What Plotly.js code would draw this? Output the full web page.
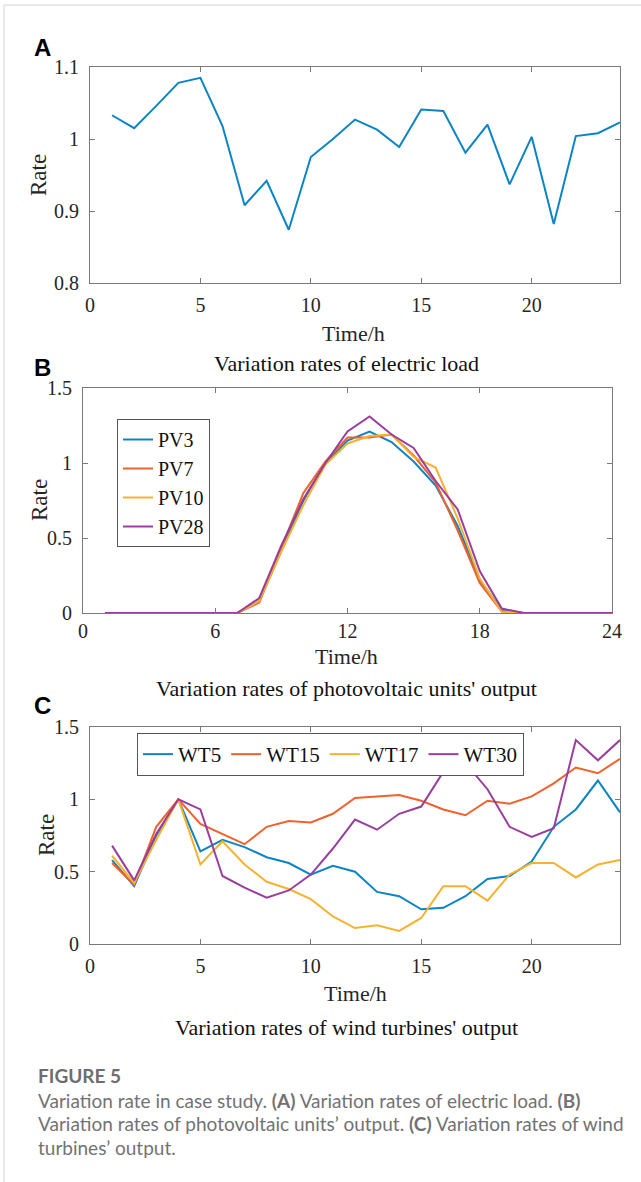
<!DOCTYPE html>
<html>
<head>
<meta charset="utf-8">
<script src="https://cdn.plot.ly/plotly-3.0.1.min.js"></script>
<style>
  html, body { margin: 0; padding: 0; background: #fff; }
  #chart { width: 641px; height: 1182px; }
</style>
</head>
<body>
<div id="chart"></div>
<script>
// ---------- data ----------
const hours = [1,2,3,4,5,6,7,8,9,10,11,12,13,14,15,16,17,18,19,20,21,22,23,24];

const loadRate = [1.033,1.015,1.046,1.078,1.085,1.018,0.908,0.942,0.874,0.975,1.000,1.027,
                  1.013,0.989,1.041,1.039,0.981,1.020,0.937,1.003,0.882,1.004,1.008,1.023];

const pvNames = ["PV3","PV7","PV10","PV28"];
const pv3  = [0,0,0,0,0,0,0,0.08,0.42,0.75,1.00,1.15,1.21,1.14,1.01,0.85,0.58,0.22,0.02,0,0,0,0,0];
const pv7  = [0,0,0,0,0,0,0,0.07,0.43,0.80,1.01,1.17,1.17,1.19,1.05,0.87,0.55,0.20,0.01,0,0,0,0,0];
const pv10 = [0,0,0,0,0,0,0,0.08,0.41,0.72,0.99,1.13,1.18,1.19,1.04,0.97,0.63,0.23,0.01,0,0,0,0,0];
const pv28 = [0,0,0,0,0,0,0,0.10,0.45,0.76,1.00,1.21,1.31,1.19,1.10,0.88,0.69,0.28,0.03,0,0,0,0,0];

const wtNames = ["WT5","WT15","WT17","WT30"];
const wt5  = [0.58,0.40,0.75,1.00,0.64,0.72,0.67,0.60,0.56,0.48,0.54,0.50,0.36,0.33,0.24,0.25,0.33,0.45,0.47,0.57,0.81,0.93,1.13,0.91];
const wt15 = [0.56,0.41,0.81,1.00,0.83,0.76,0.69,0.81,0.85,0.84,0.90,1.01,1.02,1.03,0.99,0.93,0.89,0.99,0.97,1.02,1.11,1.22,1.18,1.28];
const wt17 = [0.61,0.42,0.72,1.00,0.55,0.71,0.55,0.43,0.38,0.31,0.19,0.11,0.13,0.09,0.18,0.40,0.40,0.30,0.48,0.56,0.56,0.46,0.55,0.58];
const wt30 = [0.68,0.44,0.76,1.00,0.93,0.47,0.39,0.32,0.37,0.48,0.66,0.86,0.79,0.90,0.95,1.19,1.25,1.07,0.81,0.74,0.80,1.41,1.27,1.41];

const panelLabels = ["A","B","C"];
const subTitles = ["Variation rates of electric load",
                   "Variation rates of photovoltaic units' output",
                   "Variation rates of wind turbines' output"];
const xTitle = "Time/h";
const yTitle = "Rate";
const captionHead = "FIGURE 5";
const captionLines = [
  "Variation rate in case study. <b>(A)</b> Variation rates of electric load. <b>(B)</b>",
  "Variation rates of photovoltaic units’ output. <b>(C)</b> Variation rates of wind",
  "turbines’ output."
];

// ---------- styling ----------
const W = 641, H = 1182;
const colors = ["#0b84c6", "#f2602c", "#f6b22f", "#9a3e9e"];
const serif = "Liberation Serif, Times New Roman, serif";
const tickFont = {family: serif, size: 20, color: "#262626"};
const px = v => v / W;
const py = v => 1 - v / H;

function axisBase(extra) {
  return Object.assign({
    showline: true, mirror: "ticks", linecolor: "#7a7a7a", linewidth: 1,
    ticks: "inside", ticklen: 5, tickcolor: "#7a7a7a", tickwidth: 1,
    showgrid: false, zeroline: false, tickfont: tickFont, fixedrange: true
  }, extra);
}

const traces = [];
traces.push({x: hours, y: loadRate, type: "scatter", mode: "lines", xaxis: "x", yaxis: "y",
  line: {color: colors[0], width: 2}, showlegend: false});

[pv3, pv7, pv10, pv28].forEach((s, i) => traces.push({
  x: hours, y: s, type: "scatter", mode: "lines", xaxis: "x2", yaxis: "y2",
  name: pvNames[i], line: {color: colors[i], width: 2}, legend: "legend"}));

[wt5, wt15, wt17, wt30].forEach((s, i) => traces.push({
  x: hours, y: s, type: "scatter", mode: "lines", xaxis: "x3", yaxis: "y3",
  name: wtNames[i], line: {color: colors[i], width: 2}, legend: "legend2"}));

const annotations = [];
// panel letters
[47, 367, 705].forEach((yy, i) => annotations.push({
  text: "<b>" + panelLabels[i] + "</b>", xref: "paper", yref: "paper", x: px(42), y: py(yy),
  xanchor: "center", yanchor: "middle", showarrow: false,
  font: {family: "Liberation Sans, Arial, sans-serif", size: 24, color: "#000"}
}));
// x titles
[[354, 333], [346, 657], [355, 993]].forEach(([xx, yy]) => annotations.push({
  text: xTitle, xref: "paper", yref: "paper", x: px(xx), y: py(yy),
  xanchor: "center", yanchor: "middle", showarrow: false,
  font: {family: serif, size: 22, color: "#262626"}
}));
// y titles
[[39, 175], [39, 500], [46, 835]].forEach(([xx, yy]) => annotations.push({
  text: yTitle, xref: "paper", yref: "paper", x: px(xx), y: py(yy),
  xanchor: "center", yanchor: "middle", showarrow: false, textangle: -90,
  font: {family: serif, size: 23, color: "#262626"}
}));
// subtitles
[[346, 363], [346, 688], [346, 1027]].forEach(([xx, yy], i) => annotations.push({
  text: subTitles[i], xref: "paper", yref: "paper", x: px(xx), y: py(yy),
  xanchor: "center", yanchor: "middle", showarrow: false,
  font: {family: serif, size: 22, color: "#111"}
}));
// caption
annotations.push({
  text: captionHead, xref: "paper", yref: "paper", x: px(36), y: py(1075),
  xanchor: "left", yanchor: "middle", showarrow: false,
  font: {family: "Lato, Noto Sans, sans-serif", size: 19, color: "#6e6e6e", weight: "bold"}
});
captionLines.forEach((t, i) => annotations.push({
  text: t, xref: "paper", yref: "paper", x: px(36), y: py(1100 + i * 23.5),
  xanchor: "left", yanchor: "middle", showarrow: false,
  font: {family: "Lato, Noto Sans, sans-serif", size: 19, color: "#727272"}
}));

const layout = {
  width: W, height: H,
  margin: {l: 0, r: 0, t: 0, b: 0},
  paper_bgcolor: "#fff", plot_bgcolor: "#fff",
  showlegend: true,
  xaxis:  axisBase({domain: [px(90), px(620)], range: [0, 24], tickvals: [0,5,10,15,20], anchor: "y", ticklabelstandoff: 4}),
  yaxis:  axisBase({domain: [py(283), py(67)], range: [0.8, 1.1], tickvals: [0.8,0.9,1.0,1.1], anchor: "x", ticklabelstandoff: 6}),
  xaxis2: axisBase({domain: [px(83), px(612)], range: [0, 24], tickvals: [0,6,12,18,24], anchor: "y2", ticklabelstandoff: 0}),
  yaxis2: axisBase({domain: [py(613), py(388)], range: [0, 1.5], tickvals: [0,0.5,1,1.5], anchor: "x2", ticklabelstandoff: 6}),
  xaxis3: axisBase({domain: [px(90), px(620)], range: [0, 24], tickvals: [0,5,10,15,20], anchor: "y3", ticklabelstandoff: 4}),
  yaxis3: axisBase({domain: [py(944), py(727)], range: [0, 1.5], tickvals: [0,0.5,1,1.5], anchor: "x3", ticklabelstandoff: 6}),
  legend: {
    x: px(117), y: py(419), xanchor: "left", yanchor: "top",
    bgcolor: "#fff", bordercolor: "#555", borderwidth: 1,
    font: {family: serif, size: 20, color: "#111"}, tracegroupgap: 0, itemwidth: 30
  },
  legend2: {
    x: px(137), y: py(733), xanchor: "left", yanchor: "top", orientation: "h",
    bgcolor: "#fff", bordercolor: "#555", borderwidth: 1,
    font: {family: serif, size: 21, color: "#111"}, itemwidth: 30
  },
  annotations: annotations,
  shapes: [
    {type: "line", xref: "paper", yref: "paper", x0: px(4), x1: 1, y0: py(5), y1: py(5), line: {color: "#d4d4d4", width: 1}},
    {type: "line", xref: "paper", yref: "paper", x0: px(4), x1: px(4), y0: py(5), y1: 0, line: {color: "#d4d4d4", width: 1}}
  ]
};

Plotly.newPlot("chart", traces, layout, {staticPlot: true, displayModeBar: false});
</script>
</body>
</html>
